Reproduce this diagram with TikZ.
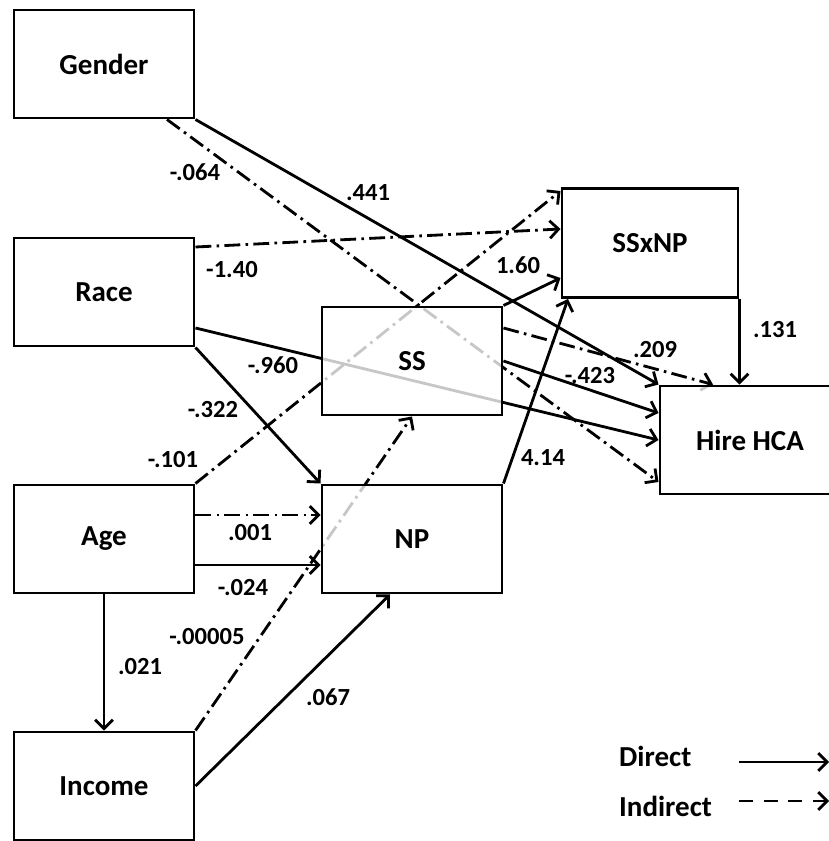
\documentclass[tikz,border=0pt]{standalone}
\usepackage{fontspec}
\setmainfont{Carlito}
\usetikzlibrary{arrows.meta,positioning,calc,backgrounds}

\begin{document}
\begin{tikzpicture}[
    box/.style={draw,line width=1.7pt,minimum width=3.6cm,minimum height=2.16cm,fill=white,fill opacity=0.78,text opacity=1,font=\fontsize{16.5}{18}\selectfont\bfseries},
    direct/.style={line width=1.6pt,-{Straight Barb[length=5pt,width=10pt]}},
    indirect/.style={line width=1.6pt,-{Straight Barb[length=5pt,width=10pt]},dash pattern=on 9pt off 3pt on 1.5pt off 3pt},
    lbl/.style={font=\fontsize{14}{16}\selectfont\bfseries}
]
    \useasboundingbox (0,0) rectangle (16.56,16.82);

    % Variables
    \node[box] (gender) at (2.08,15.54) {Gender};
    \node[box] (race) at (2.08,10.98) {Race};
    \node[box] (age) at (2.08,6.04) {Age};
    \node[box] (income) at (2.08,1.10) {Income};
    \node[box] (ss) at (8.24,9.60) {SS};
    \node[box] (np) at (8.24,6.04) {NP};
    \node[box,minimum width=3.52cm,minimum height=2.18cm] (ssnp) at (13.00,11.96) {SSxNP};
    \node[box] (hire) at (15.00,8.02) {Hire HCA};

    % Paths
    \begin{scope}[on background layer]
        \draw[direct] (gender.south east) -- (hire.north west);
        \draw[indirect] ([xshift=1.26cm]gender.south) -- ([yshift=-0.84cm]hire.west);
        \draw[indirect] ([yshift=0.9cm]race.east) -- ([yshift=0.28cm]ssnp.west);
        \draw[direct] ([yshift=-0.72cm]race.east) -- (hire.west);
        \draw[direct] (race.south east) -- (np.north west);
        \draw[direct] (ss.east) -- ([yshift=0.54cm]hire.west);
        \draw[indirect] ([yshift=0.66cm]ss.east) -- ([xshift=-0.74cm]hire.north);
        \draw[direct] (ss.north east) -- ([yshift=-0.7cm]ssnp.west);
        \draw[direct] (np.north east) -- ([xshift=-1.64cm]ssnp.south);
        \draw[indirect] (age.north east) -- ([yshift=-0.08cm]ssnp.north west);
        \draw[indirect] ([yshift=0.48cm]age.east) -- ([yshift=0.48cm]np.west);
        \draw[direct] ([yshift=-0.52cm]age.east) -- ([yshift=-0.52cm]np.west);
        \draw[direct] (age.south) -- (income.north);
        \draw[indirect] (income.north east) -- (ss.south);
        \draw[direct] (income.east) -- ([xshift=-0.44cm]np.south);
        \draw[direct] (ssnp.south east) -- (ssnp.south east |- hire.north);
    \end{scope}

    % Coefficients
    \node[lbl] (l441) at (7.36,12.96) {.441};
    \node[lbl] (l064) at (3.90,13.38) {-.064};
    \node[lbl] (l140) at (4.64,11.42) {-1.40};
    \node[lbl] (l960) at (5.46,9.52) {-.960};
    \node[lbl] (l322) at (4.26,8.62) {-.322};
    \node[lbl] (l423) at (11.80,9.30) {-.423};
    \node[lbl] (l209) at (13.10,9.82) {.209};
    \node[lbl] (l160) at (10.36,11.52) {1.60};
    \node[lbl] (l414) at (10.86,7.66) {4.14};
    \node[lbl] (l101) at (3.46,7.62) {-.101};
    \node[lbl] (l001) at (5.00,6.16) {.001};
    \node[lbl] (l024) at (4.86,5.06) {-.024};
    \node[lbl] (l021) at (2.80,3.48) {.021};
    \node[lbl] (l00005) at (4.14,4.08) {-.00005};
    \node[lbl] (l067) at (6.56,2.88) {.067};
    \node[lbl] (l131) at (15.50,10.22) {.131};

    % Legend
    \node[anchor=west,font=\fontsize{16.5}{18}\selectfont\bfseries] (direct) at (12.26,1.70) {Direct};
    \node[anchor=west,font=\fontsize{16.5}{18}\selectfont\bfseries] (indirect) at (12.26,0.70) {Indirect};
    \coordinate (d1) at (14.78,1.58);
    \coordinate (d2) at (16.58,1.58);
    \coordinate (i1) at (14.78,0.80);
    \coordinate (i2) at (16.58,0.80);
    \draw[direct] (d1) -- (d2);
    \draw[line width=1.6pt,-{Straight Barb[length=5pt,width=10pt]},dash pattern=on 8pt off 6pt] (i1) -- (i2);
\end{tikzpicture}
\end{document}
